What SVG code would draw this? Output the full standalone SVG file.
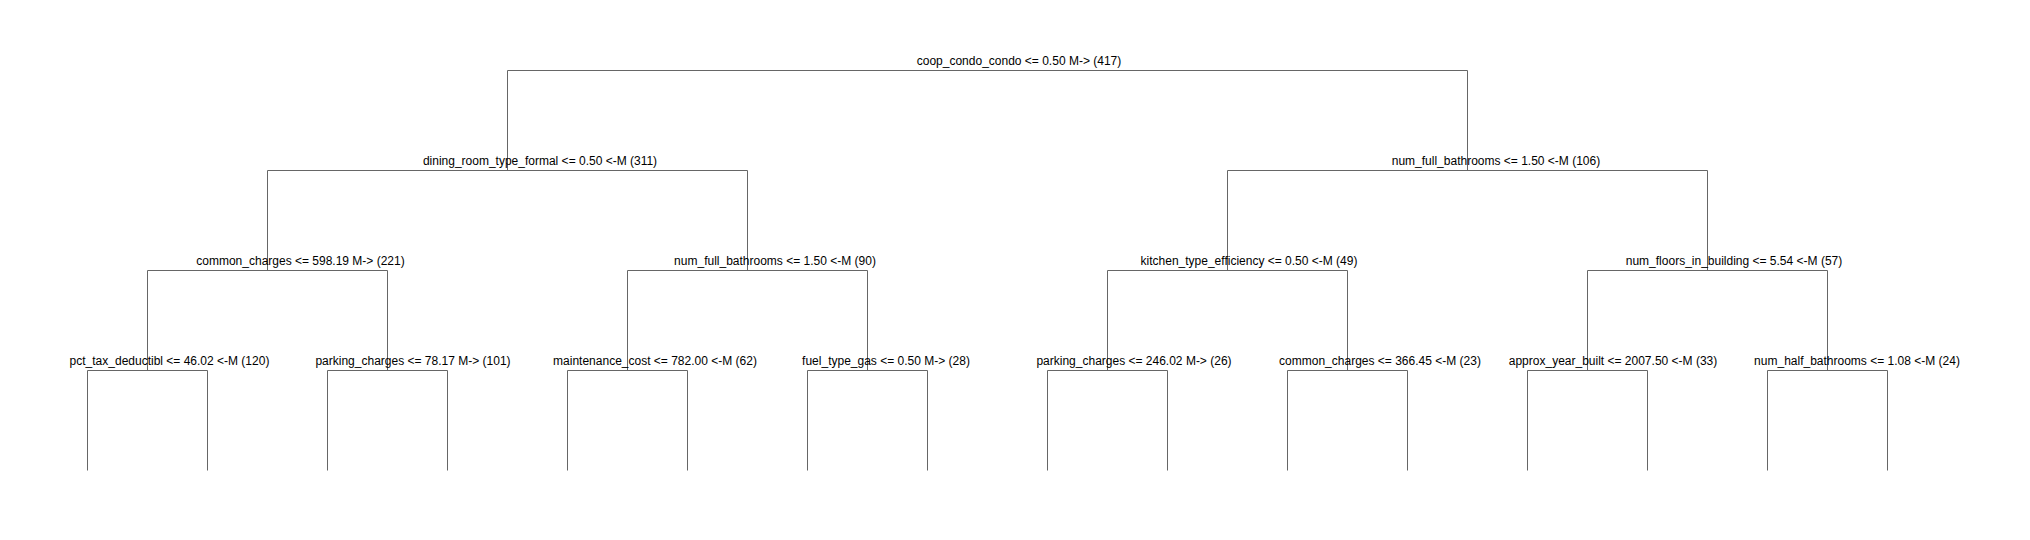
<svg xmlns="http://www.w3.org/2000/svg" width="2030" height="540" viewBox="0 0 2030 540">
<style>
.e{fill:none;stroke:#666666;stroke-width:1}
.t{font-family:"Liberation Sans",Arial,sans-serif;font-size:12px;fill:#000000;text-anchor:middle}
</style>
<rect x="0" y="0" width="2030" height="540" fill="#ffffff"/>
<g id="connectors">
<path class="e" d="M507.5,170.5V70.5H1467.5V170.5"/>
<path class="e" d="M267.5,270.5V170.5H747.5V270.5"/>
<path class="e" d="M1227.5,270.5V170.5H1707.5V270.5"/>
<path class="e" d="M147.5,370.5V270.5H387.5V370.5"/>
<path class="e" d="M627.5,370.5V270.5H867.5V370.5"/>
<path class="e" d="M1107.5,370.5V270.5H1347.5V370.5"/>
<path class="e" d="M1587.5,370.5V270.5H1827.5V370.5"/>
<path class="e" d="M87.5,470.5V370.5H207.5V470.5"/>
<path class="e" d="M327.5,470.5V370.5H447.5V470.5"/>
<path class="e" d="M567.5,470.5V370.5H687.5V470.5"/>
<path class="e" d="M807.5,470.5V370.5H927.5V470.5"/>
<path class="e" d="M1047.5,470.5V370.5H1167.5V470.5"/>
<path class="e" d="M1287.5,470.5V370.5H1407.5V470.5"/>
<path class="e" d="M1527.5,470.5V370.5H1647.5V470.5"/>
<path class="e" d="M1767.5,470.5V370.5H1887.5V470.5"/>
</g>
<g id="n0"><text class="t" x="1019" y="65">coop_condo_condo &lt;= 0.50 M-&gt; (417)</text></g>
<g id="n1"><text class="t" x="540" y="165">dining_room_type_formal &lt;= 0.50 &lt;-M (311)</text></g>
<g id="n2"><text class="t" x="1496" y="165">num_full_bathrooms &lt;= 1.50 &lt;-M (106)</text></g>
<g id="n3"><text class="t" x="300.5" y="265">common_charges &lt;= 598.19 M-&gt; (221)</text></g>
<g id="n4"><text class="t" x="775" y="265">num_full_bathrooms &lt;= 1.50 &lt;-M (90)</text></g>
<g id="n5"><text class="t" x="1249" y="265">kitchen_type_efficiency &lt;= 0.50 &lt;-M (49)</text></g>
<g id="n6"><text class="t" x="1734" y="265">num_floors_in_building &lt;= 5.54 &lt;-M (57)</text></g>
<g id="n7"><text class="t" x="169.5" y="365">pct_tax_deductibl &lt;= 46.02 &lt;-M (120)</text></g>
<g id="n8"><text class="t" x="413" y="365">parking_charges &lt;= 78.17 M-&gt; (101)</text></g>
<g id="n9"><text class="t" x="655" y="365">maintenance_cost &lt;= 782.00 &lt;-M (62)</text></g>
<g id="n10"><text class="t" x="886" y="365">fuel_type_gas &lt;= 0.50 M-&gt; (28)</text></g>
<g id="n11"><text class="t" x="1134" y="365">parking_charges &lt;= 246.02 M-&gt; (26)</text></g>
<g id="n12"><text class="t" x="1380" y="365">common_charges &lt;= 366.45 &lt;-M (23)</text></g>
<g id="n13"><text class="t" x="1613" y="365">approx_year_built &lt;= 2007.50 &lt;-M (33)</text></g>
<g id="n14"><text class="t" x="1857" y="365">num_half_bathrooms &lt;= 1.08 &lt;-M (24)</text></g>
</svg>
